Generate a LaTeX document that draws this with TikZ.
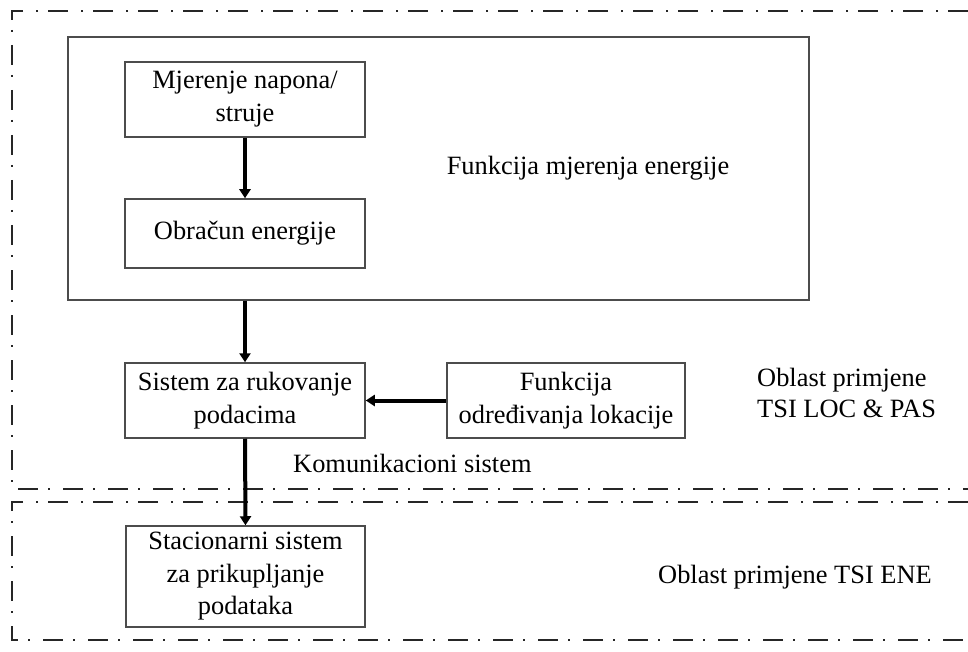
\documentclass[tikz,border=0pt]{standalone}
\usepackage{fontspec}
\setmainfont{Liberation Serif}
\usetikzlibrary{arrows.meta}
\begin{document}
\begin{tikzpicture}[x=1pt,y=-1pt,
  box/.style={draw=black!70,line width=1.5pt,rectangle,inner sep=0pt,align=center,
    font=\fontsize{26.4}{33}\selectfont},
  lbl/.style={inner sep=0pt,font=\fontsize{26.4}{31}\selectfont},
  arr/.style={line width=4pt,-{Triangle[length=9pt,width=11pt]}},
  region/.style={draw=black!85,line width=2.5pt,dash pattern=on 20pt off 10pt on 2pt off 13pt}]
\useasboundingbox (0,0) rectangle (968,652);
% regions
\coordinate (rA) at (12,11);
\coordinate (rB) at (968,11);
\coordinate (rC) at (12,489);
\coordinate (rD) at (968,489);
\coordinate (rE) at (12,502);
\coordinate (rF) at (968,502);
\coordinate (rG) at (12,640);
\coordinate (rH) at (968,640);
\draw[region] (rB) -- (rA) -- (rC) -- (rD);
\draw[region] (rF) -- (rE) -- (rG) -- (rH);
% boxes
\node[box,minimum width=741pt,minimum height=263pt] (big) at (438.5,168.5) {};
\node[lbl] (bigl) at (588,168) {Funkcija mjerenja energije};
\node[box,minimum width=240pt,minimum height=75pt] (b1) at (245,99.5) {Mjerenje napona/\\struje};
\node[box,minimum width=240pt,minimum height=69pt] (b2) at (245,233.5) {Obračun energije};
\node[box,minimum width=240pt,minimum height=75pt] (b3) at (245,400.5) {Sistem za rukovanje\\podacima};
\node[box,minimum width=238pt,minimum height=75pt] (b4) at (566,400.5) {Funkcija\\određivanja lokacije};
\node[box,minimum width=239pt,minimum height=101pt,font=\fontsize{26.4}{32.5}\selectfont] (b5) at (245.5,576.5) {Stacionarni sistem\\za prikupljanje\\podataka};
% labels
\node[lbl,anchor=west] (kom) at (293,463) {Komunikacioni sistem};
\node[lbl,anchor=west,align=left] (loc) at (757,392.5) {Oblast primjene\\TSI LOC \& PAS};
\node[lbl,anchor=west] (ene) at (658,577) {Oblast primjene TSI ENE};
% arrows
\draw[arr] (b1.south) -- (b2.north);
\draw[arr] (b3.north |- big.south) -- (b3.north);
\draw[arr] (b4.west) -- (b3.east);
\draw[arr] (b3.south) -- (b5.north);
\end{tikzpicture}
\end{document}
